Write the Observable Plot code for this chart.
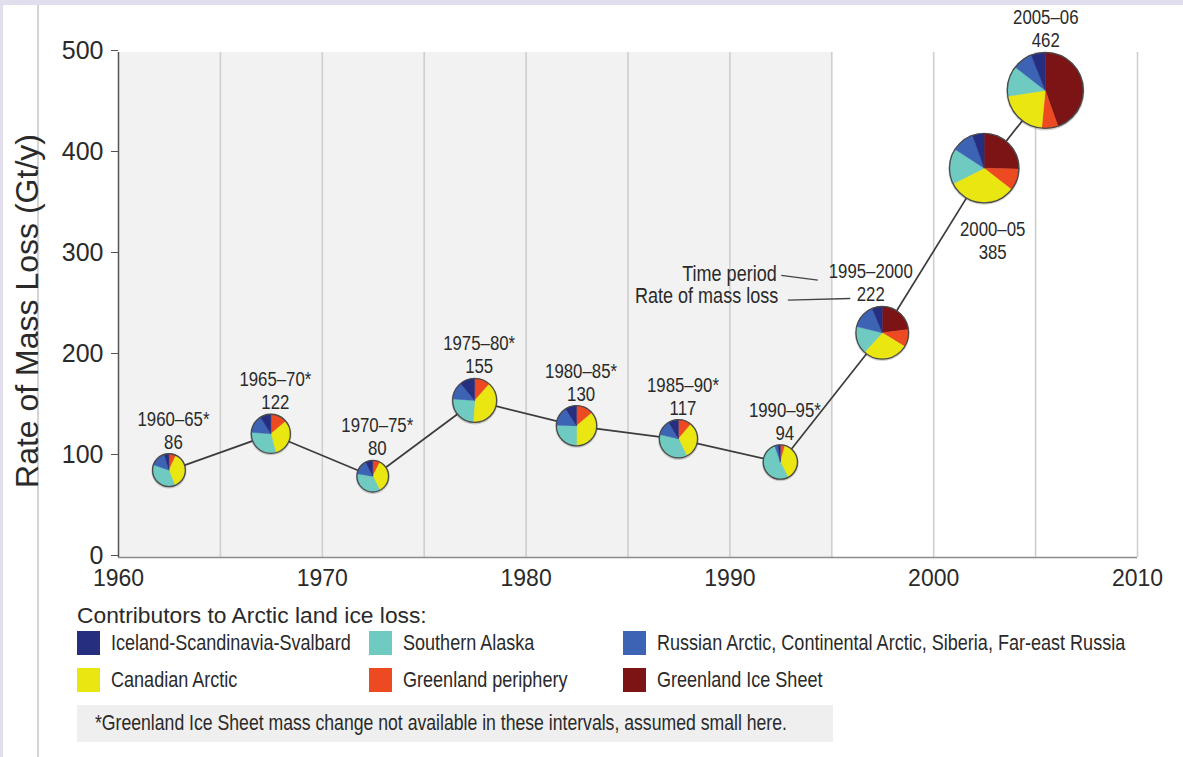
<!DOCTYPE html>
<html>
<head>
<meta charset="utf-8">
<script src="https://cdn.jsdelivr.net/npm/d3@7"></script>
<script src="https://cdn.jsdelivr.net/npm/@observablehq/plot@0.6"></script>
<style>
html, body { margin: 0; padding: 0; background: #fff; }
body { width: 1183px; height: 757px; position: relative; overflow: hidden;
  font-family: "Liberation Sans", Arial, Helvetica, sans-serif; color: #2a2a2a; }
#pageline { position: absolute; left: 37px; top: 5px; width: 2px; height: 752px; background: #d4d4d4; }
#chart { position: absolute; left: 0; top: 0; }
#legend-title { position: absolute; left: 77px; top: 603px; font-size: 22.8px; line-height: 24px; white-space: nowrap; }
#legend { position: absolute; left: 77px; top: 630px; display: grid; grid-template-columns: 292px 254px auto; row-gap: 12px; }
.item { display: flex; align-items: center; height: 25px; line-height: 25px; white-space: nowrap; }
.sw { width: 23px; height: 24px; margin-right: 11px; flex: none; }
.nt { display: inline-block; transform-origin: 0 50%; }
#note { position: absolute; left: 77px; top: 705px; width: 756px; height: 37px; background: #efefef;
  display: flex; align-items: center; padding-left: 18px; box-sizing: border-box; white-space: nowrap; overflow: hidden; }
.bt { position: absolute; left: 0; top: 0; width: 1183px; height: 5px; background: #e1dfee; }
.bl { position: absolute; left: 0; top: 0; width: 3px; height: 757px; background: #e1dfee; }
</style>
</head>
<body>
<div id="pageline"></div>
<div id="chart"></div>
<div id="legend-title"></div>
<div id="legend"></div>
<div id="note"></div>
<div class="bt"></div>
<div class="bl"></div>
<script>
// ---------- data ----------
const periods = ["1960–65*", "1965–70*", "1970–75*", "1975–80*", "1980–85*", "1985–90*", "1990–95*", "1995–2000", "2000–05", "2005–06"];
const midYears = [1962.5, 1967.5, 1972.5, 1977.5, 1982.5, 1987.5, 1992.5, 1997.5, 2002.5, 2005.5];
const totals = [86, 122, 80, 155, 130, 117, 94, 222, 385, 462];

// contributions (Gt/y), clockwise order inside each pie
const regions = ["Greenland Ice Sheet", "Greenland periphery", "Canadian Arctic", "Southern Alaska",
  "Russian Arctic, Continental Arctic, Siberia, Far-east Russia", "Iceland-Scandinavia-Svalbard"];
const regionColors = ["#7c1315", "#ee4a22", "#e9e612", "#6fcbc1", "#3d63b5", "#262e80"];
const greenlandIceSheet    = [0, 0, 0, 0, 0, 0, 0, 51, 98, 206];
const greenlandPeriphery   = [6, 17, 6, 18, 18, 13, 4, 24, 39, 32];
const canadianArctic       = [32, 39, 28, 61, 47, 37, 36, 62, 123, 97];
const southernAlaska       = [31, 37, 28, 39, 33, 42, 49, 38, 64, 60];
const russianArctic        = [13, 18, 12, 20, 20, 15, 3, 33, 40, 39];
const icelandScandSvalbard = [4, 11, 6, 17, 12, 10, 2, 14, 21, 28];
const series = [greenlandIceSheet, greenlandPeriphery, canadianArctic, southernAlaska, russianArctic, icelandScandSvalbard];

const legendOrder = [5, 3, 4, 2, 1, 0];
const legendTitle = "Contributors to Arctic land ice loss:";
const footnote = "*Greenland Ice Sheet mass change not available in these intervals, assumed small here.";
const yLabel = "Rate of Mass Loss (Gt/y)";
const yTicks = [0, 100, 200, 300, 400, 500];
const xTicks = [1960, 1970, 1980, 1990, 2000, 2010];
const gridYears = [1965, 1970, 1975, 1980, 1985, 1990, 1995, 2000, 2005, 2010];
const shadedPeriod = [1960, 1995];
const annotationLabels = ["Time period", "Rate of mass loss"];

// ---------- fonts ----------
function hasFont(name) {
  const c = document.createElement("canvas").getContext("2d");
  const s = "abcdefghijklmnopqrstuvwxyzABCDEFGHIJ0123456789";
  c.font = "40px monospace"; const w0 = c.measureText(s).width;
  c.font = `40px "${name}", monospace`; const w1 = c.measureText(s).width;
  return Math.abs(w0 - w1) > 0.5;
}
const REG = '"Liberation Sans", Arial, Helvetica, sans-serif';
const narrowOK = hasFont("Liberation Sans Narrow");
// narrow text: real narrow font if present, otherwise regular font squeezed horizontally
const NARROW = narrowOK ? '"Liberation Sans Narrow", narrowmark, sans-serif' : '"Liberation Sans", Arial, narrowmark, sans-serif';
const SQUEEZE = narrowOK ? 1 : 0.82;

// ---------- chart ----------
const rows = periods.map((p, i) => ({period: p, mid: midYears[i], total: totals[i], i}));
const rOpts = {type: "sqrt", domain: [0, 462], range: [0, 38]};
const rScale = Plot.scale({r: rOpts});
const textColor = "#2a2a2a";
const NFS = 22;
const LFS = 20.5;

const labelMarks = rows.map(d => {
  const r = rScale.apply(d.total);
  let dx = 4, dy = -(r + 5.5);
  if (d.period === "1995–2000") dx = -12;
  if (d.period === "2000–05") { dx = 8; dy = r + 55.3; }
  if (d.period === "2005–06") dx = 0;
  return Plot.text([d], {
    x: "mid", y: "total", text: v => `${v.period}\n${v.total}`,
    lineAnchor: "bottom", lineHeight: 1.12, dx, dy,
    fontSize: LFS, fontFamily: NARROW, fill: textColor
  });
});

const annot = rows.filter(d => d.period === "1995–2000");

const pieMark = Plot.dot(rows, {
  x: "mid", y: "total", r: "total",
  render(index, scales, values) {
    const g = d3.create("svg:g");
    for (const i of index) {
      const parts = series.map((s, k) => ({k, v: s[i]})).filter(p => p.v > 0);
      const arcs = d3.pie().sort(null).value(p => p.v)(parts);
      const rr = values.r[i];
      const arc = d3.arc().innerRadius(0).outerRadius(rr);
      const pg = g.append("g").attr("transform", `translate(${values.x[i]},${values.y[i]})`);
      pg.append("circle").attr("r", rr + 1.2).attr("cy", 0.8).attr("fill", "rgba(0,0,0,0.18)");
      pg.selectAll("path").data(arcs).join("path")
        .attr("d", arc)
        .attr("fill", a => regionColors[a.data.k])
        .attr("stroke", a => regionColors[a.data.k])
        .attr("stroke-width", 0.4);
      pg.append("circle").attr("r", rr).attr("fill", "none").attr("stroke", "#4a4a4a").attr("stroke-width", 1.3);
    }
    return g.node();
  }
});

const leaderMark = Plot.dot(annot, {
  x: "mid", y: "total",
  render(index, scales, values) {
    const g = d3.create("svg:g").attr("stroke", "#444").attr("stroke-width", 1.3).attr("fill", "none");
    for (const i of index) {
      const cx = values.x[i], cy = values.y[i];
      g.append("path").attr("d", `M${cx - 101},${cy - 57.3}L${cx - 64.4},${cy - 52.6}`);
      g.append("path").attr("d", `M${cx - 94.4},${cy - 32.6}L${cx - 32},${cy - 34.3}`);
    }
    return g.node();
  }
});

const chart = Plot.plot({
  width: 1183, height: 600,
  marginLeft: 118, marginRight: 46, marginTop: 52, marginBottom: 43,
  style: {background: "transparent", fontFamily: REG, overflow: "visible"},
  x: {domain: [1960, 2010]},
  y: {domain: [0, 500]},
  r: rOpts,
  marks: [
    Plot.rect([shadedPeriod], {x1: d => d[0], x2: d => d[1], fill: "#f2f2f2"}),
    Plot.ruleX(gridYears, {stroke: "#cfcfcf", strokeWidth: 1.6}),
    Plot.ruleY([0], {stroke: "#8c8c8c", strokeWidth: 1.6}),
    Plot.ruleX([1960], {stroke: "#555", strokeWidth: 1.5}),
    Plot.axisY({ticks: yTicks, tickSize: 7, tickPadding: 8, fontSize: 25, color: textColor, stroke: "#555",
      label: null, tickFormat: d => String(d), dy: -2}),
    Plot.axisX({ticks: xTicks, tickSize: 0, tickPadding: 12, fontSize: 23, color: textColor,
      label: null, tickFormat: d => String(d)}),
    Plot.text([yLabel], {frameAnchor: "left", text: d => d, rotate: -90, textAnchor: "middle", lineAnchor: "middle",
      dx: -91, dy: 6, fontSize: 32, fill: textColor}),
    Plot.line(rows, {x: "mid", y: "total", stroke: "#3c3c3c", strokeWidth: 1.7}),
    leaderMark,
    Plot.text(annot, {x: "mid", y: "total", text: () => annotationLabels[0], textAnchor: "end", lineAnchor: "bottom",
      dx: -106, dy: -52, fontSize: NFS, fontFamily: NARROW, fill: textColor}),
    Plot.text(annot, {x: "mid", y: "total", text: () => annotationLabels[1], textAnchor: "end", lineAnchor: "bottom",
      dx: -104.5, dy: -30, fontSize: NFS, fontFamily: NARROW, fill: textColor}),
    pieMark,
    ...labelMarks
  ]
});
// squeeze narrow texts horizontally around their anchor
if (SQUEEZE !== 1) {
  chart.querySelectorAll('g[font-family*="narrowmark"] text').forEach(t => {
    const tr = t.getAttribute("transform") || "";
    t.setAttribute("transform", `${tr} scale(${SQUEEZE},1)`);
  });
}
document.getElementById("chart").appendChild(chart);

// ---------- legend ----------
document.getElementById("legend-title").textContent = legendTitle;
const legend = d3.select("#legend");
for (const k of legendOrder) {
  const it = legend.append("div").attr("class", "item")
    .style("font-family", NARROW).style("font-size", "22px");
  it.append("div").attr("class", "sw").style("background", regionColors[k]);
  it.append("span").attr("class", "nt").style("transform", `scaleX(${SQUEEZE})`).text(regions[k]);
}
d3.select("#note").append("span").attr("class", "nt")
  .style("font-family", NARROW).style("font-size", "21.5px")
  .style("transform", `scaleX(${SQUEEZE})`).text(footnote);
</script>
</body>
</html>
